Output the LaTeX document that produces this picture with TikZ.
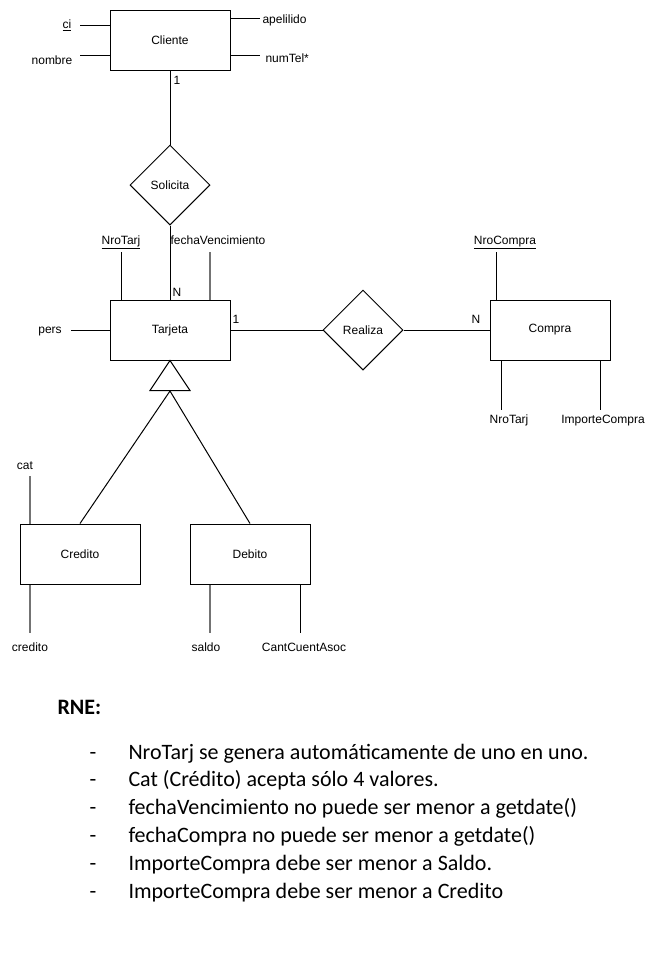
\documentclass[tikz,border=0pt]{standalone}
\usepackage{fontspec}
\setmainfont{Liberation Sans}
\newfontfamily\calibri{Carlito}
\usetikzlibrary{shapes.geometric,positioning}

\begin{document}
\begin{tikzpicture}
    [x=0.75pt,y=-0.75pt,line width=0.75pt,
     entidad/.style={draw,minimum width=90pt,minimum height=45pt,inner sep=0pt,font=\fontsize{9}{11}\selectfont},
     relacion/.style={draw,diamond,aspect=1,minimum width=60pt,minimum height=60pt,inner sep=0pt,font=\fontsize{9}{11}\selectfont},
     atrib/.style={inner sep=0pt,text height=6.5pt,text depth=0pt,font=\fontsize{9}{11}\selectfont},
     card/.style={inner sep=0pt,text height=6.5pt,text depth=0pt,font=\fontsize{9}{11}\selectfont},
     gris/.style={draw=black!55,line width=1.2pt},
     regla/.style={inner sep=0pt,text height=10.6pt,text depth=0pt,font=\calibri\fontsize{16.5}{20}\selectfont}]
\useasboundingbox (0,0) rectangle (671,971);
%entities and relationships
\node[entidad] (cliente) at (170,40) {Cliente};
\node[relacion] (solicita) at (170,185) {Solicita};
\node[entidad] (tarjeta) at (170,330) {Tarjeta};
\node[relacion] (realiza) at (363,330) {Realiza};
\node[entidad] (compra) at (550,330) {Compra};
\node[entidad] (credito) at (80,554) {Credito};
\node[entidad] (debito) at (250,554) {Debito};

%relationship lines and cardinalities
\draw (cliente.south) -- (solicita.north);
\draw (solicita.south) -- (tarjeta.north);
\draw (tarjeta.east) -- (realiza.west);
\draw (realiza.east) -- (compra.west);
\node[card,anchor=west] (c1) at (173,80) {1};
\node[card,anchor=west] (c2) at (172,292) {N};
\node[card,anchor=west] (c3) at (232,319) {1};
\node[card,anchor=west] (c4) at (471,319) {N};

%generalization
\draw (tarjeta.south) -- ++(-20,30) -- ++(40,0) -- cycle;
\coordinate (isa) at (170,391);
\draw (isa) -- (credito.north);
\draw (isa) -- (debito.north);

%attributes of Cliente
\node[atrib] (ci) at (67,24) {\underline{ci}};
\node[atrib] (nombre) at (52,60) {nombre};
\node[atrib,anchor=west] (apellido) at (262,19) {apelilido};
\node[atrib,anchor=west] (numtel) at (265,58) {numTel*};
\coordinate (ci-e) at (80,25);
\coordinate (nombre-e) at (80,55);
\coordinate (apellido-w) at (260,18);
\coordinate (numtel-w) at (260,55);
\draw (ci-e) -- (ci-e -| cliente.west);
\draw (nombre-e) -- (nombre-e -| cliente.west);
\draw (apellido-w -| cliente.east) -- (apellido-w);
\draw (numtel-w -| cliente.east) -- (numtel-w);

%attributes of Tarjeta
\node[atrib] (nrotarj) at (121,240) {\underline{NroTarj}};
\node[atrib] (fechav) at (218,240) {fechaVencimiento};
\node[atrib] (pers) at (50,329) {pers};
\coordinate (nrotarj-s) at (121,252);
\coordinate (fechav-s) at (210,252);
\coordinate (pers-e) at (71,330);
\draw (nrotarj-s) -- (nrotarj-s |- tarjeta.north);
\draw[gris] (fechav-s) -- (fechav-s |- tarjeta.north);
\draw (pers-e) -- (pers-e -| tarjeta.west);

%attributes of Compra
\node[atrib] (nrocompra) at (505,240) {\underline{NroCompra}};
\node[atrib] (nrotarjc) at (509,419) {NroTarj};
\node[atrib] (importe) at (603,419) {ImporteCompra};
\coordinate (nrocompra-s) at (496,252);
\coordinate (nrotarjc-n) at (501,410);
\coordinate (importe-n) at (600,410);
\draw (nrocompra-s) -- (nrocompra-s |- compra.north);
\draw (nrotarjc-n |- compra.south) -- (nrotarjc-n);
\draw (importe-n |- compra.south) -- (importe-n);

%attributes of Credito and Debito
\node[atrib] (cat) at (25,465) {cat};
\node[atrib] (credval) at (30,647) {credito};
\node[atrib] (saldo) at (206,647) {saldo};
\node[atrib] (cantcuent) at (304,647) {CantCuentAsoc};
\coordinate (cat-s) at (30,476);
\coordinate (credval-n) at (30,633);
\coordinate (saldo-n) at (210,633);
\coordinate (cantcuent-n) at (300,633);
\draw[gris] (cat-s) -- (cat-s |- credito.north);
\draw[gris] (credval-n |- credito.south) -- (credval-n);
\draw[gris] (saldo-n |- debito.south) -- (saldo-n);
\draw (cantcuent-n |- debito.south) -- (cantcuent-n);

%business rules
\node[regla,anchor=west,font=\calibri\bfseries\fontsize{16.5}{20}\selectfont] (rne) at (57,707) {RNE:};
\foreach \txt [count=\i from 0] in {{NroTarj se genera automáticamente de uno en uno.},
    {Cat (Crédito) acepta sólo 4 valores.},
    {fechaVencimiento no puede ser menor a getdate()},
    {fechaCompra no puede ser menor a getdate()},
    {ImporteCompra debe ser menor a Saldo.},
    {ImporteCompra debe ser menor a Credito}}
{
  \node[regla] (guion\i) at (93,752+27.8*\i) {-};
  \node[regla,anchor=west] (regla\i) at (128,752+27.8*\i) {\txt};
}
\end{tikzpicture}
\end{document}
